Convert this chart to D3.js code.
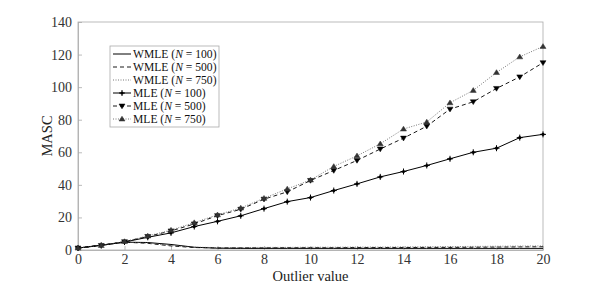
<!DOCTYPE html>
<html>
<head>
<meta charset="utf-8">
<script src="https://cdn.jsdelivr.net/npm/d3@7"></script>
<style>
  body { margin: 0; background: #fff; }
  text { font-family: "Liberation Serif", "DejaVu Serif", serif; }
</style>
</head>
<body>
<div id="chart"></div>
<script>
// outlier values on the x axis
const outliers = d3.range(0, 21);

const wmle100 = [1.2, 3, 4.8, 4.6, 3.4, 1.7, 1.1, 1.0, 1.0, 1.0, 1.0, 1.0, 1.0, 1.0, 1.0, 1.0, 1.0, 1.0, 1.0, 1.0, 1.0];
const wmle500 = [1.2, 3, 4.8, 4.1, 2.5, 1.5, 1.3, 1.3, 1.3, 1.4, 1.4, 1.4, 1.5, 1.5, 1.5, 1.6, 1.6, 1.7, 1.8, 1.9, 2.0];
const wmle750 = [1.2, 3, 4.9, 4.3, 2.8, 1.7, 1.5, 1.5, 1.6, 1.6, 1.7, 1.7, 1.8, 1.8, 1.9, 2.0, 2.1, 2.2, 2.3, 2.4, 2.5];
const mle100 = [1.2, 2.8, 4.9, 7.8, 10.5, 14.4, 17.6, 21.0, 25.4, 29.7, 32.2, 36.5, 40.6, 44.9, 48.2, 51.9, 56.0, 60.0, 62.5, 69.0, 71.0];
const mle500 = [1.2, 2.8, 5.1, 8.3, 11.7, 16.0, 21.1, 25.0, 31.2, 35.7, 42.7, 48.8, 55.0, 62.0, 68.7, 76.0, 86.5, 91.0, 99.2, 106.3, 115.0];
const mle750 = [1.2, 2.8, 5.2, 8.6, 12.2, 16.8, 21.6, 25.8, 31.8, 37.5, 43.0, 51.3, 57.8, 65.2, 74.3, 78.6, 90.4, 98.0, 109.0, 118.6, 125.0];

const xTicks = d3.range(0, 21, 2);
const yTicks = d3.range(0, 141, 20);

const series = [
  { name: 'WMLE', n: 100, values: wmle100, dash: null, color: '#000', width: 1, marker: null },
  { name: 'WMLE', n: 500, values: wmle500, dash: '4,3', color: '#000', width: 0.9, marker: null },
  { name: 'WMLE', n: 750, values: wmle750, dash: '1,1.5', color: '#555', width: 0.8, marker: null },
  { name: 'MLE', n: 100, values: mle100, dash: null, color: '#000', width: 1, marker: 'plus' },
  { name: 'MLE', n: 500, values: mle500, dash: '4,3', color: '#000', width: 0.9, marker: 'down' },
  { name: 'MLE', n: 750, values: mle750, dash: '1,1.5', color: '#555', width: 0.8, marker: 'up' },
];

const width = 600, height = 285;
const margin = { left: 78, right: 57, top: 22, bottom: 35 };

const svg = d3.select('#chart').append('svg')
  .attr('width', width)
  .attr('height', height);

const x = d3.scaleLinear().domain([0, 20]).range([margin.left, width - margin.right]);
const y = d3.scaleLinear().domain([0, 140]).range([height - margin.bottom, margin.top]);

const axisColor = '#aaa';
const labelColor = '#333';

// box around the plot
svg.append('rect')
  .attr('x', x(0)).attr('y', y(140))
  .attr('width', x(20) - x(0)).attr('height', y(0) - y(140))
  .attr('fill', 'none').attr('stroke', axisColor).attr('stroke-width', 0.8);

// axes, ticks inside
const xAxis = svg.append('g')
  .attr('transform', `translate(0,${y(0)})`)
  .call(d3.axisBottom(x).tickValues(xTicks).tickSizeInner(-4).tickSizeOuter(0).tickPadding(4));
const yAxis = svg.append('g')
  .attr('transform', `translate(${x(0)},0)`)
  .call(d3.axisLeft(y).tickValues(yTicks).tickSizeInner(-4).tickSizeOuter(0).tickPadding(6));

[xAxis, yAxis].forEach(ax => {
  ax.select('.domain').attr('stroke', axisColor).attr('stroke-width', 0.8);
  ax.selectAll('.tick line').attr('stroke', axisColor).attr('stroke-width', 0.8);
  ax.selectAll('.tick text')
    .attr('fill', labelColor)
    .style('font-family', '"Liberation Serif", serif')
    .style('font-size', '14px');
});

svg.append('text')
  .attr('x', (x(0) + x(20)) / 2).attr('y', height - 4)
  .attr('text-anchor', 'middle')
  .attr('fill', '#222')
  .style('font-size', '14.5px')
  .text('Outlier value');

svg.append('text')
  .attr('transform', `translate(52,${(y(0) + y(140)) / 2}) rotate(-90)`)
  .attr('text-anchor', 'middle')
  .attr('fill', '#222')
  .style('font-size', '14.5px')
  .text('MASC');

function drawMarker(g, type, cx, cy, color) {
  if (type === 'plus') {
    g.append('path')
      .attr('d', `M${cx - 3},${cy}L${cx + 3},${cy}M${cx},${cy - 3}L${cx},${cy + 3}`)
      .attr('stroke', color).attr('stroke-width', 1);
    g.append('circle').attr('cx', cx).attr('cy', cy).attr('r', 1.6).attr('fill', color);
  } else if (type === 'down') {
    g.append('path')
      .attr('d', `M${cx - 3},${cy - 2}L${cx + 3},${cy - 2}L${cx},${cy + 2.8}Z`)
      .attr('fill', color).attr('stroke', color).attr('stroke-width', 0.5);
  } else if (type === 'up') {
    g.append('path')
      .attr('d', `M${cx - 3},${cy + 2}L${cx + 3},${cy + 2}L${cx},${cy - 2.8}Z`)
      .attr('fill', '#333').attr('stroke', '#333').attr('stroke-width', 0.5);
  }
}

const line = d3.line()
  .x((d, i) => x(outliers[i]))
  .y(d => y(d));

const plot = svg.append('g');
series.forEach(s => {
  plot.append('path')
    .datum(s.values)
    .attr('d', line)
    .attr('fill', 'none')
    .attr('stroke', s.color)
    .attr('stroke-width', s.width)
    .attr('stroke-dasharray', s.dash);
  if (s.marker) {
    const mg = plot.append('g');
    s.values.forEach((v, i) => drawMarker(mg, s.marker, x(outliers[i]), y(v), s.color));
  }
});

// legend
const lg = svg.append('g').attr('transform', 'translate(110,46)');
const rowH = 13;
lg.append('rect')
  .attr('x', 0).attr('y', 0)
  .attr('width', 109).attr('height', rowH * series.length + 3)
  .attr('fill', '#fff').attr('stroke', axisColor).attr('stroke-width', 0.8);

series.forEach((s, i) => {
  const cy = 8 + i * rowH;
  lg.append('line')
    .attr('x1', 3).attr('x2', 21).attr('y1', cy).attr('y2', cy)
    .attr('stroke', s.color).attr('stroke-width', s.width)
    .attr('stroke-dasharray', s.dash);
  if (s.marker) drawMarker(lg, s.marker, 12, cy, s.color);
  const t = lg.append('text')
    .attr('x', 23).attr('y', cy + 4)
    .attr('fill', '#111')
    .style('font-size', '11.6px');
  t.append('tspan').text(`${s.name} (`);
  t.append('tspan').style('font-style', 'italic').text('N');
  t.append('tspan').text(` = ${s.n})`);
});
</script>
</body>
</html>
